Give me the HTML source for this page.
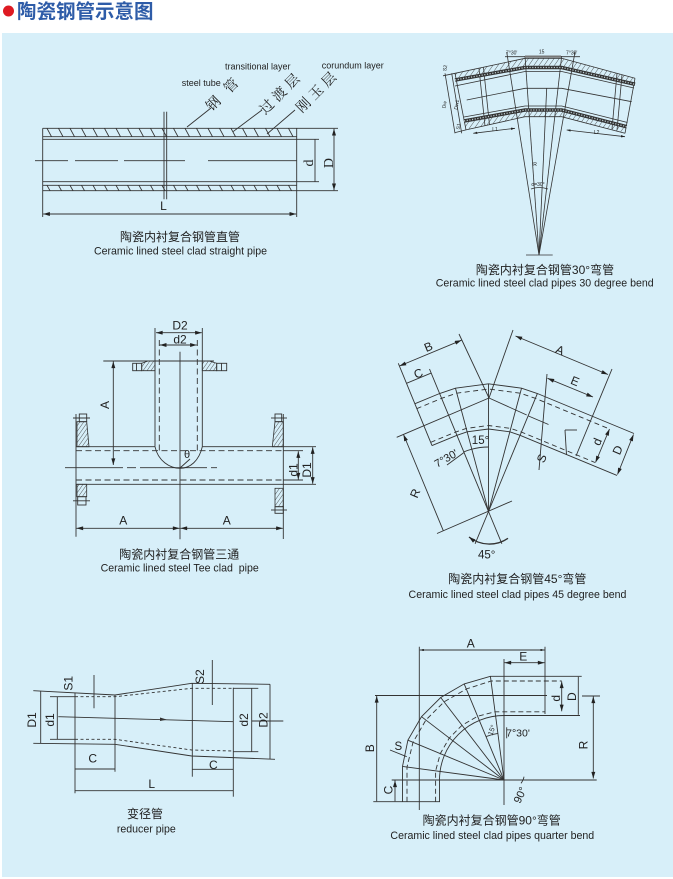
<!DOCTYPE html>
<html><head><meta charset="utf-8">
<style>
html,body{margin:0;padding:0;background:#fff;}
svg{display:block;}
text{font-family:"Liberation Sans","Noto Sans CJK SC",sans-serif;fill:#222;}
.cn{font-family:"Liberation Sans","Noto Sans CJK SC",sans-serif;}
.sr{font-family:"Liberation Serif","Noto Serif CJK SC",serif;}
</style></head><body>
<svg width="673" height="879" viewBox="0 0 673 879" xmlns="http://www.w3.org/2000/svg">
<defs>
<marker id="m" viewBox="0 0 10 6" refX="10" refY="3" markerWidth="7" markerHeight="4" orient="auto-start-reverse" markerUnits="userSpaceOnUse"><path d="M0,0L10,3L0,6z" fill="#222"/></marker>
<marker id="s" viewBox="0 0 10 6" refX="10" refY="3" markerWidth="4" markerHeight="2.4" orient="auto-start-reverse" markerUnits="userSpaceOnUse"><path d="M0,0L10,3L0,6z" fill="#222"/></marker>
<pattern id="hp" width="3.2" height="10" patternUnits="userSpaceOnUse" patternTransform="rotate(35)"><line x1="0" y1="0" x2="0" y2="10" stroke="#333" stroke-width="0.8"/></pattern>
<pattern id="hq" width="4.2" height="10" patternUnits="userSpaceOnUse" patternTransform="rotate(35)"><line x1="0" y1="0" x2="0" y2="10" stroke="#333" stroke-width="0.8"/></pattern>
</defs>

<!-- title -->
<circle cx="8.5" cy="11" r="5.5" fill="#de1a22"/>
<text x="17" y="18" class="cn" font-size="19.5" fill="#2e5ca8" style="fill:#2e5ca8" font-weight="bold">陶瓷钢管示意图</text>

<!-- panel -->
<rect x="2" y="33" width="671" height="844" fill="#d7eff9"/>

<!-- ================= STRAIGHT PIPE ================= -->
<g stroke="#333" stroke-width="0.9" fill="none">
<line x1="42.7" y1="128.3" x2="338" y2="128.3"/>
<line x1="42.7" y1="136.7" x2="296.7" y2="136.7"/>
<line x1="42.7" y1="139.3" x2="319" y2="139.3"/>
<line x1="42.7" y1="181.7" x2="319" y2="181.7"/>
<line x1="42.7" y1="185.3" x2="296.7" y2="185.3"/>
<line x1="42.7" y1="190.7" x2="338" y2="190.7"/>
<line x1="42.7" y1="128.3" x2="42.7" y2="217"/>
<line x1="296.7" y1="128.3" x2="296.7" y2="217"/>
<path d="M47,128.3l4.5,8.4M58.5,128.3l4.5,8.4M70,128.3l4.5,8.4M81.5,128.3l4.5,8.4M93,128.3l4.5,8.4M104.5,128.3l4.5,8.4M116,128.3l4.5,8.4M127.5,128.3l4.5,8.4M139,128.3l4.5,8.4M150.5,128.3l4.5,8.4M162,128.3l4.5,8.4M173.5,128.3l4.5,8.4M185,128.3l4.5,8.4M196.5,128.3l4.5,8.4M208,128.3l4.5,8.4M219.5,128.3l4.5,8.4M231,128.3l4.5,8.4M242.5,128.3l4.5,8.4M254,128.3l4.5,8.4M265.5,128.3l4.5,8.4M277,128.3l4.5,8.4M288.5,128.3l4.5,8.4"/>
<path d="M47,185.3l3,5.4M58.5,185.3l3,5.4M70,185.3l3,5.4M81.5,185.3l3,5.4M93,185.3l3,5.4M104.5,185.3l3,5.4M116,185.3l3,5.4M127.5,185.3l3,5.4M139,185.3l3,5.4M150.5,185.3l3,5.4M162,185.3l3,5.4M173.5,185.3l3,5.4M185,185.3l3,5.4M196.5,185.3l3,5.4M208,185.3l3,5.4M219.5,185.3l3,5.4M231,185.3l3,5.4M242.5,185.3l3,5.4M254,185.3l3,5.4M265.5,185.3l3,5.4M277,185.3l3,5.4M288.5,185.3l3,5.4"/>
<line x1="164" y1="111.7" x2="164" y2="199.3"/>
<line x1="166.7" y1="111.7" x2="166.7" y2="199.3"/>
<path d="M35,160.7H68M75,160.7H118M124,160.7H185M208,160.7H297"/>
<line x1="315" y1="139.3" x2="315" y2="181.7"/>
<line x1="334" y1="128.8" x2="334" y2="190.2" marker-start="url(#m)" marker-end="url(#m)"/>
<line x1="43.2" y1="214" x2="296.2" y2="214" marker-start="url(#m)" marker-end="url(#m)"/>
<line x1="187" y1="127" x2="211" y2="108"/>
<line x1="233" y1="131.7" x2="262" y2="110"/>
<line x1="267" y1="134" x2="295" y2="110"/>
</g>
<text x="163.5" y="210" font-size="12" text-anchor="middle">L</text>
<text transform="translate(308,163) rotate(-90)" class="sr" font-size="14" text-anchor="middle" dy="0.35em">d</text>
<text transform="translate(328,163) rotate(-90)" class="sr" font-size="14" text-anchor="middle" dy="0.35em">D</text>
<text transform="translate(211.8,111.7) rotate(-45)" class="sr" font-size="14" letter-spacing="11">钢管</text>
<text transform="translate(265.2,115.1) rotate(-45)" class="sr" font-size="14" letter-spacing="4">过渡层</text>
<text transform="translate(301.8,113.4) rotate(-45)" class="sr" font-size="14" letter-spacing="4">刚玉层</text>
<text x="181.7" y="86" font-size="9">steel tube</text>
<text x="225" y="69.3" font-size="9">transitional layer</text>
<text x="321.7" y="68.3" font-size="9">corundum layer</text>
<text x="180" y="241" font-size="12" text-anchor="middle">陶瓷内衬复合钢管直管</text>
<text x="180.5" y="254.5" font-size="10.6" text-anchor="middle">Ceramic lined steel clad straight pipe</text>

<!-- ================= 30 DEGREE BEND ================= -->
<polygon points="455,73.3 525,58.3 561.7,58.3 635,78.3 635,82.5 561.7,65.7 525,65.7 455,78.2" fill="url(#hq)" stroke="none"/>
<polygon points="464,122.8 525,111.8 561.7,111.8 626.5,128.5 625,133.3 561.7,116.7 525,116.7 466,129.9" fill="url(#hq)" stroke="none"/>
<g stroke="#333" stroke-width="0.8" fill="none">
<polyline points="443,75.8 455,73.3 525,58.3 561.7,58.3 635,78.3"/>
<polyline points="455,86 525,71.5 561.7,71.5 634,88"/>
<polyline points="466.7,100 525,88.3 561.7,88.3 631.7,101.7"/>
<polyline points="464,117 525,106 561.7,106 627.5,122.5"/>
<polyline points="455,132.6 466,129.9 525,116.7 561.7,116.7 625,133.3"/>
<line x1="455" y1="73.3" x2="466" y2="129.9"/>
<line x1="635" y1="78.3" x2="625" y2="133.3"/>
<line x1="479" y1="68.5" x2="485" y2="126"/>
<line x1="483.5" y1="67.6" x2="489.5" y2="125"/>
<line x1="617" y1="73.5" x2="612" y2="129"/>
<line x1="622" y1="74.8" x2="617" y2="130.3"/>
<line x1="445" y1="73.3" x2="455" y2="133.3"/>
<line x1="451.7" y1="73.3" x2="461.7" y2="133.3"/>
<line x1="539" y1="255" x2="506.7" y2="52"/>
<line x1="539" y1="255" x2="525" y2="56"/>
<line x1="539" y1="255" x2="546.7" y2="88.3"/>
<line x1="539" y1="255" x2="561.7" y2="56"/>
<line x1="539" y1="255" x2="575" y2="52"/>
<line x1="526" y1="255" x2="552.7" y2="255"/>
<line x1="505" y1="56.7" x2="580" y2="56.7"/>
<line x1="473.3" y1="133.3" x2="515" y2="128.3" marker-start="url(#s)" marker-end="url(#s)"/>
<line x1="566.7" y1="130" x2="625" y2="136.7" marker-start="url(#s)" marker-end="url(#s)"/>
<path d="M531,189 Q539,186 548,189"/>
</g>
<polyline points="455,80 525,67.5 561.7,67.5 635,84.3" fill="none" stroke="#333" stroke-width="3.6"/>
<polyline points="455,80 525,67.5 561.7,67.5 635,84.3" fill="none" stroke="#b9c8cc" stroke-width="1.3" stroke-dasharray="1.2 1.5"/>
<polyline points="464,121 525,110 561.7,110 626.7,126.7" fill="none" stroke="#333" stroke-width="3.6"/>
<polyline points="464,121 525,110 561.7,110 626.7,126.7" fill="none" stroke="#b9c8cc" stroke-width="1.3" stroke-dasharray="1.2 1.5"/>
<rect x="525" y="55.5" width="36" height="2.2" fill="#777"/>
<g font-size="5">
<text x="511.7" y="54.5" text-anchor="middle">7°30'</text>
<text x="541.7" y="53.5" text-anchor="middle">15</text>
<text x="571.7" y="54.5" text-anchor="middle">7°30'</text>
<text transform="translate(446.7,68.3) rotate(-80)" text-anchor="middle">S2</text>
<text transform="translate(446,105) rotate(-80)" text-anchor="middle">Dw</text>
<text transform="translate(458.3,105) rotate(-80)" text-anchor="middle">Dw1</text>
<text transform="translate(460,126.7) rotate(-80)" text-anchor="middle">S1</text>
<text x="495" y="131" text-anchor="middle">L1</text>
<text x="596.7" y="134" text-anchor="middle">L2</text>
<text x="535" y="166" text-anchor="middle">R</text>
<text x="538" y="186" text-anchor="middle">α=30°</text>
</g>
<text x="545" y="273.8" font-size="12" text-anchor="middle">陶瓷内衬复合钢管30°弯管</text>
<text x="544.7" y="286.5" font-size="10.6" text-anchor="middle">Ceramic lined steel clad pipes 30 degree bend</text>

<!-- ================= TEE ================= -->
<polygon points="77,421.7 86.7,421.7 89,446.7 77,446.7" fill="url(#hp)" stroke="#333" stroke-width="0.8"/>
<rect x="77" y="484.3" width="9.7" height="12.4" fill="url(#hp)" stroke="#333" stroke-width="0.8"/>
<polygon points="275,421.7 283.3,421.7 283.3,446.7 272.3,446.7" fill="url(#hp)" stroke="#333" stroke-width="0.8"/>
<rect x="275" y="488.3" width="8.3" height="18.4" fill="url(#hp)" stroke="#333" stroke-width="0.8"/>
<polygon points="148,361 155,361 155,370.7 141.7,370.7 141.7,363.3" fill="url(#hp)" stroke="#333" stroke-width="0.8"/>
<polygon points="202.3,361 209,361 216.7,363.3 216.7,370.7 202.3,370.7" fill="url(#hp)" stroke="#333" stroke-width="0.8"/>
<g stroke="#333" stroke-width="0.9" fill="none">
<rect x="79.3" y="414" width="7.4" height="7.7"/>
<line x1="73" y1="418" x2="90" y2="418"/>
<rect x="77.7" y="496.7" width="8.3" height="8.3"/>
<line x1="73" y1="500.8" x2="90" y2="500.8"/>
<rect x="275" y="414" width="6.7" height="7.7"/>
<line x1="271" y1="418" x2="287" y2="418"/>
<rect x="275" y="506.7" width="8.3" height="6.6"/>
<line x1="271" y1="510" x2="287" y2="510"/>
<rect x="132.7" y="363.3" width="9" height="7.4"/>
<line x1="136.5" y1="363.3" x2="136.5" y2="370.7"/>
<rect x="216.7" y="363.3" width="10" height="7.4"/>
<line x1="221.5" y1="363.3" x2="221.5" y2="370.7"/>
<line x1="103.3" y1="361" x2="214" y2="361"/>
<line x1="76" y1="446.7" x2="155" y2="446.7"/>
<line x1="202.3" y1="446.7" x2="316" y2="446.7"/>
<line x1="76" y1="484.3" x2="316" y2="484.3"/>
<line x1="76" y1="414" x2="76" y2="536.7"/>
<line x1="283.3" y1="414" x2="283.3" y2="539"/>
<line x1="155" y1="328" x2="155" y2="446.7"/>
<line x1="202.3" y1="328" x2="202.3" y2="446.7"/>
<path d="M76,450.7H283.3M76,480H283.3M159.3,340V452M197.3,340V452" stroke-dasharray="6 3.5"/>
<line x1="283.3" y1="450.7" x2="303" y2="450.7"/>
<line x1="283.3" y1="480" x2="303" y2="480"/>
<path d="M155,446.7C158,461 170,468.3 180,468.3C190,468.3 199,461 202.3,446.7"/>
<line x1="180" y1="468" x2="190" y2="459"/>
<line x1="180" y1="351.7" x2="180" y2="539.3"/>
<path d="M65,467.7H123M127,467.7H136M140,467.7H207M211,467.7H217"/>
<line x1="156" y1="332.7" x2="201.8" y2="332.7" marker-start="url(#m)" marker-end="url(#m)"/>
<line x1="159.8" y1="345" x2="196.8" y2="345" marker-start="url(#m)" marker-end="url(#m)"/>
<line x1="113.3" y1="361.5" x2="113.3" y2="465" marker-start="url(#m)" marker-end="url(#m)"/>
<line x1="298.3" y1="451.2" x2="298.3" y2="479.5" marker-start="url(#m)" marker-end="url(#m)"/>
<line x1="312.7" y1="447.2" x2="312.7" y2="483.8" marker-start="url(#m)" marker-end="url(#m)"/>
<line x1="76.5" y1="528.3" x2="179.5" y2="528.3" marker-start="url(#m)" marker-end="url(#m)"/>
<line x1="180.5" y1="528.3" x2="282.8" y2="528.3" marker-start="url(#m)" marker-end="url(#m)"/>
</g>
<g font-size="12" text-anchor="middle">
<text x="180" y="329.5">D2</text>
<text x="180" y="343.5">d2</text>
<text x="187" y="458" font-size="11">θ</text>
<text transform="translate(105,405) rotate(-90)" dy="0.35em">A</text>
<text transform="translate(293.3,470) rotate(-90)" dy="0.35em">d1</text>
<text transform="translate(307,470) rotate(-90)" dy="0.35em">D1</text>
<text x="123.3" y="524.5">A</text>
<text x="226.7" y="524.5">A</text>
</g>
<text x="179.3" y="558.5" font-size="12" text-anchor="middle">陶瓷内衬复合钢管三通</text>
<text x="179.7" y="571.5" font-size="10.6" text-anchor="middle" xml:space="preserve">Ceramic lined steel Tee clad  pipe</text>

<!-- ================= 45 DEGREE BEND ================= -->
<g stroke="#333" stroke-width="0.9" fill="none">
<polyline points="414.7,403.8 439.63,393.52 455.45,388.15 488.5,383.8 521.55,388.15 537.37,393.52 634,433.5"/>
<polyline points="432,445.6 456.93,435.28 467.15,431.81 488.5,429 509.85,431.81 520.07,435.28 617,475.4"/>
<polyline points="416.67,408.65 441.62,398.32 456.8,393.18 488.5,389 520.2,393.18 535.38,398.32 610,429.2" stroke-dasharray="5 3.5"/>
<polyline points="430.64,442.37 455.59,432.04 466.24,428.43 488.5,425.5 510.76,428.43 521.41,432.04 595,462.5" stroke-dasharray="5 3.5"/>
<line x1="398.3" y1="363.3" x2="432" y2="445.6"/>
<line x1="439.6" y1="393.5" x2="429.5" y2="369"/>
<line x1="406.5" y1="383.3" x2="431.2" y2="373.1"/>
<line x1="399.5" y1="366" x2="461.5" y2="340.2" marker-start="url(#m)" marker-end="url(#m)"/>
<line x1="459" y1="334" x2="489" y2="398"/>
<line x1="513" y1="330" x2="489" y2="398"/>
<line x1="515.5" y1="336" x2="608" y2="374.5" marker-start="url(#m)" marker-end="url(#m)"/>
<line x1="612" y1="369" x2="576" y2="456"/>
<line x1="547.5" y1="378.3" x2="593" y2="397" marker-start="url(#m)" marker-end="url(#m)"/>
<line x1="547" y1="374" x2="539" y2="470"/>
<line x1="565" y1="430" x2="577" y2="430"/>
<line x1="565" y1="430" x2="566.5" y2="455"/>
<line x1="609.5" y1="429" x2="595.5" y2="462.5" marker-start="url(#m)" marker-end="url(#m)"/>
<line x1="633.5" y1="434.5" x2="617.5" y2="474.5" marker-start="url(#m)" marker-end="url(#m)"/>
<line x1="396.7" y1="437.3" x2="489" y2="398"/>
<line x1="489" y1="398" x2="526.7" y2="415"/>
<line x1="528.5" y1="416" x2="548.5" y2="424.5"/>
<line x1="488.5" y1="511.5" x2="439.63" y2="393.52"/>
<line x1="488.5" y1="511.5" x2="455.45" y2="388.15"/>
<line x1="488.5" y1="511.5" x2="488.5" y2="383.8"/>
<line x1="488.5" y1="511.5" x2="521.55" y2="388.15"/>
<line x1="488.5" y1="511.5" x2="537.37" y2="393.52"/>
<line x1="488.5" y1="511.5" x2="501.9" y2="543.8"/>
<line x1="488.5" y1="511.5" x2="475.1" y2="543.8"/>
<line x1="403.5" y1="434.5" x2="443.3" y2="530.7" marker-start="url(#m)"/>
<line x1="437" y1="533.5" x2="512" y2="501"/>
<path d="M469,537A33,33 0 0 0 508,538.3" stroke-width="1.3" marker-start="url(#m)"/>
<path d="M471.8,449.2A64.5,64.5 0 0 1 488.5,447"/>
<path d="M463.8,451.9A64.5,64.5 0 0 1 471.8,449.2"/>
<line x1="447" y1="465" x2="464" y2="452.5"/>
</g>
<g font-size="12" text-anchor="middle">
<text transform="translate(428.3,346.7) rotate(-22.5)" dy="0.35em">B</text>
<text transform="translate(418.3,373.3) rotate(-22.5)" dy="0.35em">C</text>
<text transform="translate(560,350) rotate(22.5)" dy="0.35em">A</text>
<text transform="translate(575,381) rotate(22.5)" dy="0.35em">E</text>
<text transform="translate(597,441.7) rotate(-67.5)" dy="0.35em">d</text>
<text transform="translate(617.5,450) rotate(-67.5)" dy="0.35em">D</text>
<text transform="translate(541.7,458.3) rotate(-67.5)" dy="0.35em">S</text>
<text transform="translate(415,493.3) rotate(-67.5)" dy="0.35em">R</text>
<text x="480.5" y="444" font-size="11.5">15°</text>
<text transform="translate(446,458.3) rotate(-30)" font-size="11" dy="0.35em">7°30'</text>
<text x="486.7" y="558.5" font-size="11.5">45°</text>
</g>
<text x="517.3" y="583" font-size="12" text-anchor="middle">陶瓷内衬复合钢管45°弯管</text>
<text x="517.5" y="598" font-size="10.6" text-anchor="middle">Ceramic lined steel clad pipes 45 degree bend</text>

<!-- ================= REDUCER ================= -->
<g stroke="#333" stroke-width="0.9" fill="none">
<polyline points="33.3,690.7 115,695 191.7,683.3 270,684.3"/>
<polyline points="33.3,743.3 115,744.3 191.7,756 275,759.3"/>
<polyline points="75,696.7 115,696.7 191.7,688.3 233.3,688.3" stroke-dasharray="3 2.5"/>
<polyline points="75,739.3 115,739.3 191.7,750 233.3,751" stroke-dasharray="3 2.5"/>
<line x1="50" y1="696.7" x2="75" y2="696.7"/>
<line x1="50" y1="739.3" x2="75" y2="739.3"/>
<line x1="233.3" y1="688.3" x2="258.3" y2="688.3"/>
<line x1="233.3" y1="751.7" x2="258.3" y2="751.7"/>
<line x1="75" y1="693" x2="75" y2="793.3"/>
<line x1="115" y1="695" x2="115" y2="771.7"/>
<line x1="192.3" y1="683.3" x2="192.3" y2="776.7"/>
<line x1="233.3" y1="687.7" x2="233.3" y2="796.7"/>
<line x1="58.3" y1="716.7" x2="233.3" y2="721.7"/>
<line x1="251.7" y1="721" x2="283.3" y2="721"/>
<line x1="94" y1="675" x2="94" y2="708.3"/>
<line x1="212.3" y1="660" x2="212.3" y2="705"/>
<line x1="40.7" y1="691" x2="40.7" y2="743.3"/>
<line x1="57.3" y1="696.7" x2="57.3" y2="739.3"/>
<line x1="251.7" y1="688.3" x2="251.7" y2="751.7"/>
<line x1="270" y1="684.3" x2="270" y2="759.3"/>
<line x1="75" y1="769" x2="115" y2="769"/>
<line x1="192.3" y1="769.3" x2="233.3" y2="769.3"/>
<line x1="75" y1="790.7" x2="233.3" y2="790.7"/>
</g>
<path d="M160,717.5L167,719.6L160,721z" fill="#333"/>
<g font-size="12" text-anchor="middle">
<text transform="translate(31.7,720) rotate(-90)" dy="0.35em">D1</text>
<text transform="translate(50,720) rotate(-90)" dy="0.35em">d1</text>
<text transform="translate(244,720) rotate(-90)" dy="0.35em">d2</text>
<text transform="translate(263.3,720) rotate(-90)" dy="0.35em">D2</text>
<text transform="translate(68.3,683.3) rotate(-90)" dy="0.35em">S1</text>
<text transform="translate(200,676.7) rotate(-90)" dy="0.35em">S2</text>
<text x="92.7" y="762.5">C</text>
<text x="213.3" y="769">C</text>
<text x="151.7" y="788">L</text>
</g>
<text x="145" y="818" font-size="12" text-anchor="middle">变径管</text>
<text x="146.3" y="832.7" font-size="10.6" text-anchor="middle">reducer pipe</text>

<!-- ================= 90 DEGREE BEND ================= -->
<g stroke="#333" stroke-width="0.9" fill="none">
<polyline points="402.5,801.7 402.5,766.4 407.9,740.2 421.5,716.7 440.7,697.5 464.2,683.9 490.4,676.3 581.7,676.3"/>
<path d="M439.5,801.7V780A64.5,64.5 0 0 1 504,715.5H580"/>
<polyline points="407,801.7 407,767.1 413,742.3 425.9,720 444,701.9 466.3,689 491.1,681 561.7,681" stroke-dasharray="5 3"/>
<polyline points="435.6,801.7 435.6,771 440.3,753.6 449.3,738 462,725.3 477.6,716.3 495,711.8 545,711.8" stroke-dasharray="5 3"/>
<line x1="504" y1="780" x2="402.5" y2="766.4"/>
<line x1="504" y1="780" x2="407.9" y2="740.2"/>
<line x1="504" y1="780" x2="421.5" y2="716.7"/>
<line x1="504" y1="780" x2="440.7" y2="697.5"/>
<line x1="504" y1="780" x2="464.2" y2="683.9"/>
<line x1="504" y1="780" x2="490.4" y2="676.3"/>
<line x1="391.7" y1="780" x2="596.7" y2="780"/>
<line x1="504" y1="659" x2="504" y2="805"/>
<line x1="419.3" y1="646.7" x2="419.3" y2="810"/>
<line x1="545" y1="646.7" x2="545" y2="714"/>
<line x1="419.8" y1="650" x2="544.5" y2="650" marker-start="url(#s)" marker-end="url(#s)"/>
<line x1="504.5" y1="662.7" x2="544.5" y2="662.7" marker-start="url(#m)" marker-end="url(#m)"/>
<line x1="561.7" y1="681.5" x2="561.7" y2="711.3" marker-start="url(#m)" marker-end="url(#m)"/>
<line x1="578.3" y1="676.8" x2="578.3" y2="714.8"/>
<line x1="375" y1="695.5" x2="547" y2="695.5"/>
<line x1="582" y1="696" x2="600" y2="696"/>
<line x1="593.3" y1="696.5" x2="593.3" y2="778.5" marker-start="url(#m)" marker-end="url(#m)"/>
<line x1="376.7" y1="696" x2="376.7" y2="801.2" marker-start="url(#m)"/>
<line x1="395" y1="780.5" x2="395" y2="801.2" marker-start="url(#m)"/>
<line x1="373.3" y1="801.7" x2="440" y2="801.7"/>
<line x1="390" y1="750" x2="406.7" y2="756.7"/>
<path d="M486,736.6A47,47 0 0 1 497.9,733.4"/>
<line x1="506.7" y1="727.3" x2="506.7" y2="738.3"/>
<path d="M521,783.3Q523.5,780 524,776.7"/>
</g>
<g font-size="12" text-anchor="middle">
<text x="470.7" y="647.5">A</text>
<text x="523.3" y="660.5">E</text>
<text transform="translate(556,698.3) rotate(-90)" dy="0.35em">d</text>
<text transform="translate(571.7,696.7) rotate(-90)" dy="0.35em">D</text>
<text transform="translate(583.3,745) rotate(-90)" dy="0.35em">R</text>
<text transform="translate(370,748.3) rotate(-90)" dy="0.35em">B</text>
<text transform="translate(388.3,790) rotate(-90)" dy="0.35em">C</text>
<text x="398.3" y="750" font-size="11.5">S</text>
<text transform="translate(491.7,730) rotate(-70)" font-size="7" dy="0.35em">15°</text>
<text x="518" y="736.5" font-size="10.5">7°30'</text>
<text transform="translate(520,795) rotate(-65)" font-size="11" dy="0.35em">90°</text>
</g>
<text x="491.7" y="824.5" font-size="12" text-anchor="middle">陶瓷内衬复合钢管90°弯管</text>
<text x="492.3" y="839" font-size="10.6" text-anchor="middle">Ceramic lined steel clad pipes quarter bend</text>
</svg>
</body></html>
